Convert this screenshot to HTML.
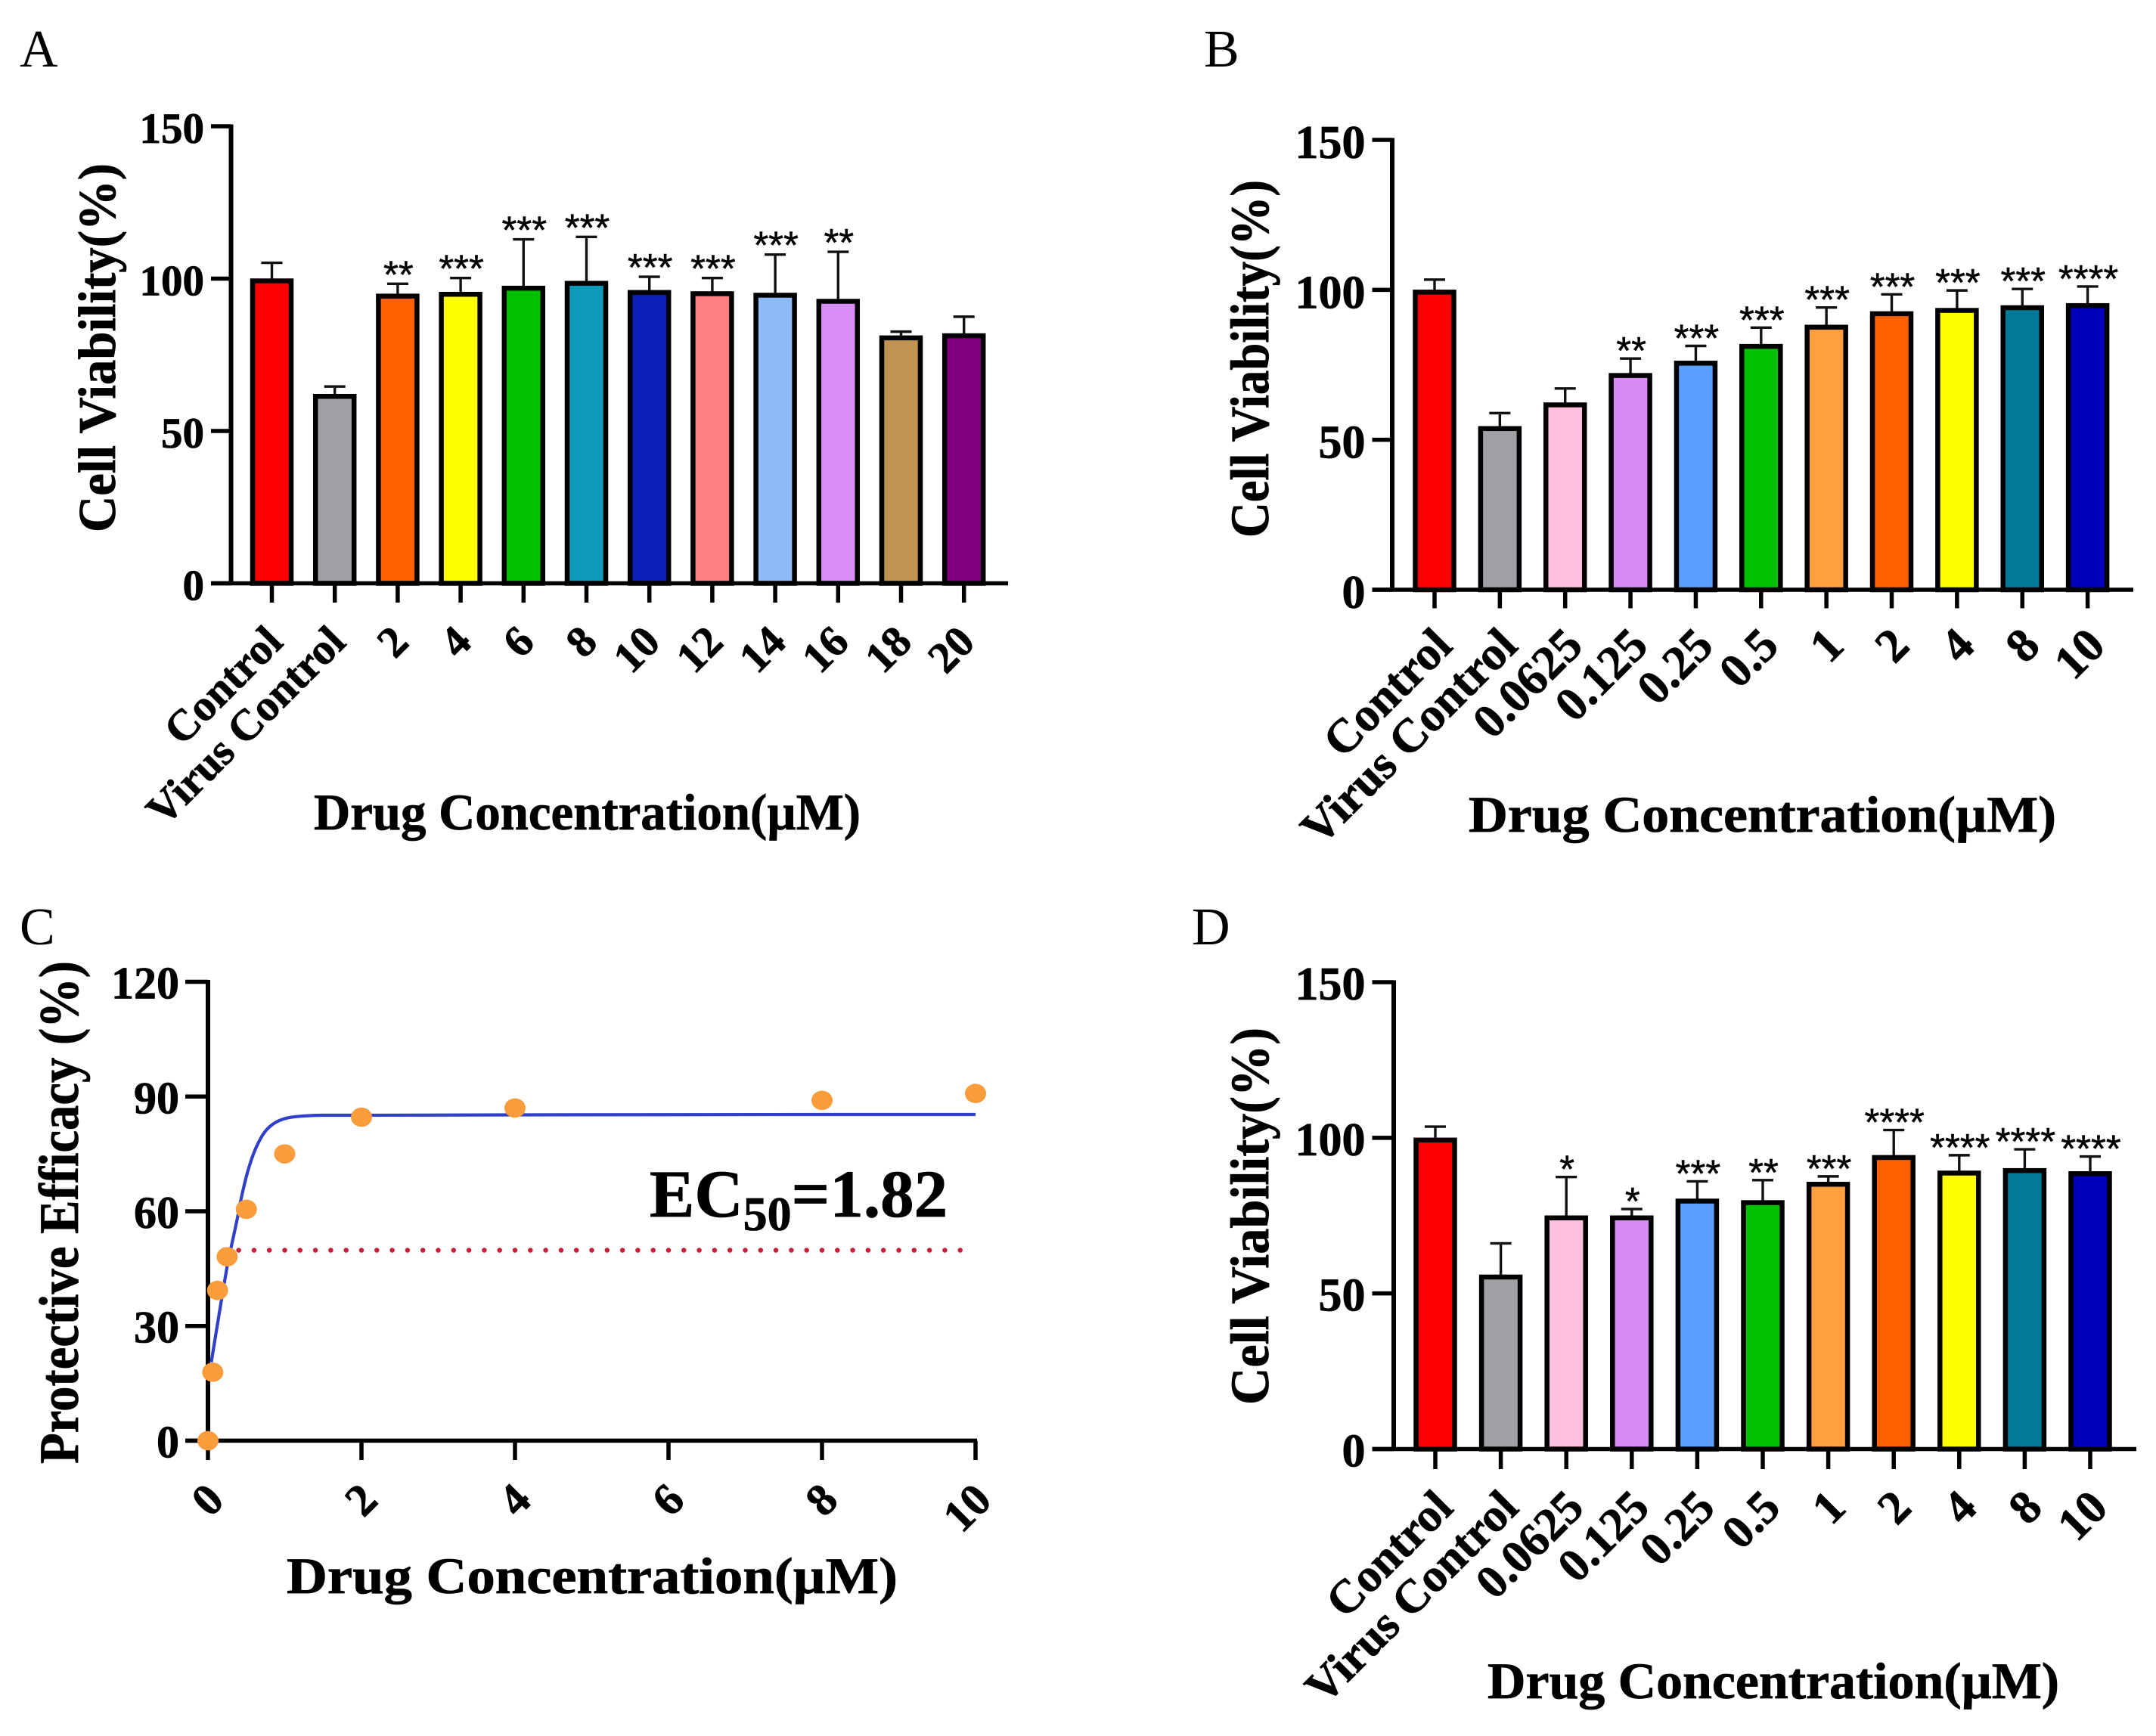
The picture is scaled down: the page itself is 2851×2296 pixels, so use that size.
<!DOCTYPE html>
<html lang="en">
<head>
<meta charset="utf-8">
<title>Cell viability and protective efficacy panels</title>
<style>
html,body{margin:0;padding:0;background:#fff;}
svg{display:block;}
text{font-family:"Liberation Serif",serif;fill:#000;}
.title{font-weight:bold;stroke:#000;stroke-width:0.8px;}
.letter{font-size:70px;}
</style>
</head>
<body>
<svg id="figure" width="2851" height="2296" viewBox="0 0 2851 2296" xmlns="http://www.w3.org/2000/svg">
<rect width="2851" height="2296" fill="#fff"/>

<text class="letter" x="26" y="88">A</text>
<text class="letter" x="1592" y="88">B</text>
<text class="letter" x="26" y="1249">C</text>
<text class="letter" x="1576" y="1249">D</text>

<text class="title" font-size="70" transform="translate(152,704) rotate(-90)" textLength="488" lengthAdjust="spacingAndGlyphs">Cell Viability(%)</text>
<text class="title" font-size="72" transform="translate(1677,711) rotate(-90)" textLength="473" lengthAdjust="spacingAndGlyphs">Cell Viability(%)</text>
<text class="title" font-size="74" transform="translate(103,1936) rotate(-90)" textLength="665" lengthAdjust="spacingAndGlyphs">Protective Efficacy (%)</text>
<text class="title" font-size="72" transform="translate(1677,1858) rotate(-90)" textLength="499" lengthAdjust="spacingAndGlyphs">Cell Viability(%)</text>

<text class="title" font-size="68" x="415" y="1097" textLength="723" lengthAdjust="spacingAndGlyphs">Drug Concentration(µM)</text>
<text class="title" font-size="68" x="1942" y="1100" textLength="777" lengthAdjust="spacingAndGlyphs">Drug Concentration(µM)</text>
<text class="title" font-size="68" x="379" y="2107" textLength="808" lengthAdjust="spacingAndGlyphs">Drug Concentration(µM)</text>
<text class="title" font-size="68" x="1967" y="2246" textLength="756" lengthAdjust="spacingAndGlyphs">Drug Concentration(µM)</text>

<text class="title" x="859" y="1609" font-size="89">EC<tspan dy="18" font-size="64">50</tspan><tspan dy="-18">=1.82</tspan></text>
</svg>
<script>
// Panel A data
const aCategories = ['Control','Virus Control','2','4','6','8','10','12','14','16','18','20'];
const aValues = [100,62.1,95,95.6,97.6,99.2,96.2,95.8,95.3,93.3,81.3,82];
const aErrors = [5.2,2.5,3.3,4.6,15.3,14.5,4.4,4.4,12.6,15.5,1.3,5.5];
const aStars = ['','','**','***','***','***','***','***','***','**','',''];
const aColors = ['#ff0000','#a0a0a4','#ff6000','#ffff00','#00c000','#0e9ab8','#0a20b8','#ff8080','#8fbcf8','#d88cf5','#c09350','#800080'];

// Panel B data
const bCategories = ['Control','Virus Control','0.0625','0.125','0.25','0.5','1','2','4','8','10'];
const bValues = [100,54.5,62.4,72.2,76.3,81.9,88.3,92.8,93.9,94.8,95.5];
const bErrors = [3.4,4.4,4.7,4.9,5,5.5,5.8,5.7,5.9,5.5,5.6];
const bStars = ['','','','**','***','***','***','***','***','***','****'];
const bColors = ['#ff0000','#a0a0a4','#ffc0e0','#d98af5','#5aa0ff','#00c000','#ff9f40','#ff6000','#ffff00','#007a96','#0000b8'];

// Panel D data
const dCategories = ['Control','Virus Control','0.0625','0.125','0.25','0.5','1','2','4','8','10'];
const dValues = [100,56,75,75,80.4,79.9,85.8,94.4,89.4,90.2,89.2];
const dErrors = [3.6,10.1,12.4,2.1,5.6,6.5,1.8,8.1,5,6.1,4.8];
const dStars = ['','','*','*','***','**','***','****','****','****','****'];
const dColors = ['#ff0000','#a0a0a4','#ffc0e0','#d98af5','#5aa0ff','#00c000','#ff9f40','#ff6000','#ffff00','#007a96','#0000b8'];

const barYTicks = [0,50,100,150];

// Panel C data
const cDoses = [0,0.0625,0.125,0.25,0.5,1,2,4,8,10];
const cEfficacy = [0,17.9,39.3,48.1,60.5,75,84.6,87,89,90.8];
const cFitDoses = [0.043,0.148,0.246,0.296,0.378,0.443,0.525,0.624,0.739,0.87,1.034,1.232,1.495,2,4,8,10];
const cFitEfficacy = [20.5,33.4,45.2,50,57.7,64.3,70.9,76.5,80.7,83.1,84.4,84.9,85.1,85.1,85.2,85.3,85.3];
const cThreshold = [50];
const cThresholdRange = [0.2,9.82];
const cXTicks = [0,2,4,6,8,10];
const cYTicks = [0,30,60,90,120];

const NS = 'http://www.w3.org/2000/svg';
const figure = document.getElementById('figure');

function make(tag, attrs, parent, text) {
  const el = document.createElementNS(NS, tag);
  for (const k in attrs) el.setAttribute(k, attrs[k]);
  if (text !== undefined) el.textContent = text;
  parent.appendChild(el);
  return el;
}

function drawAxes(g, p, xVals, xLabel, yVals, xScale, yScale) {
  const yAxis = make('line', {x1:p.axisX, x2:p.axisX, y1:yScale(yVals[0])+2.5, y2:yScale(yVals[yVals.length-1])-2.5, stroke:'#000','stroke-width':6}, g);
  
  
  const xAxis = make('line', {x1:p.tickLeft, x2:p.axisRight, y1:yScale(yVals[0]), y2:yScale(yVals[0]), stroke:'#000','stroke-width':5.5}, g);
  
  
  yVals.forEach(function (v) {
    const tick = make('line', {x1:p.tickLeft, x2:p.axisX, y1:yScale(v), y2:yScale(v), stroke:'#000','stroke-width':5.5}, g);
    
    
    const lab = make('text', {x:p.tickLeft-p.yLabelGap, y:yScale(v)+p.yLabelDy, 'text-anchor':'end', 'font-size':p.yFont, 'class':'title'}, g, String(v));
    
    
  });
  xVals.forEach(function (c, i) {
    const x = xScale(c, i);
    const tick = make('line', {x1:x, x2:x, y1:yScale(yVals[0]), y2:p.tickBottom, stroke:'#000','stroke-width':5.5}, g);
    
    
    const ax = x + p.labelDx, ay = p.labelY;
    const lab = make('text', {transform:'translate('+ax+','+ay+') rotate(-45)', 'text-anchor':'end', 'font-size':p.xFont, 'class':'title'}, g, xLabel(c));
    
    
  });
}

function drawBarPanel(p, categories, values, errors, stars, colors) {
  const g = make('g', {}, figure);
  
  
  const yScale = function (v) { return p.y0 - (p.y0 - p.yTop) * v / 150; };
  const xScale = function (c, i) { return p.x0 + p.step * i; };
  categories.forEach(function (c, i) {
    const x = xScale(c, i);
    const top = yScale(values[i]);
    const errTop = yScale(values[i] + errors[i]);
    const stem = make('line', {x1:x, x2:x, y1:top, y2:errTop, stroke:'#111','stroke-width':3.4}, g);
    
    
    const cap = make('line', {x1:x-14, x2:x+14, y1:errTop, y2:errTop, stroke:'#111','stroke-width':3.4}, g);
    
    
    const bar = make('rect', {x:x-25.5, y:top+3, width:51, height:yScale(0)-top-3, fill:colors[i], stroke:'#000','stroke-width':6.5}, g);
    
    
    if (stars[i]) {
      const s = make('text', {x:x+1, y:errTop+p.starDy, 'text-anchor':'middle', 'font-size':51, stroke:'#000','stroke-width':0.5, style:'font-family:"Liberation Sans",sans-serif'}, g, stars[i]);
      
      
    }
  });
  drawAxes(g, p, categories, function (c) { return c; }, barYTicks, xScale, yScale);
}

drawBarPanel({id:'panel-a', axisX:305.5, tickLeft:279, axisRight:1333, y0:771.5, yTop:167, x0:359.5, step:83.2, tickBottom:797, yFont:57, yLabelGap:9, yLabelDy:22, xFont:58, labelDx:17, labelY:852, starDy:5}, aCategories, aValues, aErrors, aStars, aColors);
drawBarPanel({id:'panel-b', axisX:1841, tickLeft:1814.5, axisRight:2821, y0:780, yTop:185, x0:1897, step:86.36, tickBottom:804.5, yFont:62, yLabelGap:9, yLabelDy:24, xFont:63, labelDx:26, labelY:857, starDy:7}, bCategories, bValues, bErrors, bStars, bColors);
drawBarPanel({id:'panel-d', axisX:1843, tickLeft:1814.5, axisRight:2825, y0:1916.5, yTop:1299, x0:1898, step:86.6, tickBottom:1943, yFont:62, yLabelGap:9, yLabelDy:23, xFont:62, labelDx:26, labelY:1997, starDy:7}, dCategories, dValues, dErrors, dStars, dColors);

(function drawCurvePanel() {
  const p = {id:'panel-c', axisX:275, tickLeft:245, axisRight:1292, tickBottom:1931, yFont:60, yLabelGap:8, yLabelDy:22, xFont:60, labelDx:24, labelY:1987};
  const g = make('g', {}, figure);
  
  
  const xScale = function (v) { return 275 + 101.5 * v; };
  const yScale = function (v) { return 1905.4 - 5.057 * v; };
  drawAxes(g, p, cXTicks, function (c) { return String(c); }, cYTicks, xScale, yScale);

  const dotted = make('line', {x1:xScale(cThresholdRange[0]), x2:xScale(cThresholdRange[1]), y1:yScale(cThreshold[0])+1, y2:yScale(cThreshold[0])+1, stroke:'#c8203a','stroke-width':6.5,'stroke-linecap':'round','stroke-dasharray':'0 20.3'}, g);
  
  

  // smooth path through the points
  const pts = cFitDoses.map(function (x, i) { return [xScale(x), yScale(cFitEfficacy[i])]; });
  let d = 'M' + pts[0][0].toFixed(1) + ' ' + pts[0][1].toFixed(1);
  for (let i = 0; i < pts.length - 1; i++) {
    const p0 = pts[Math.max(i - 1, 0)], p1 = pts[i], p2 = pts[i + 1], p3 = pts[Math.min(i + 2, pts.length - 1)];
    const seg = Math.min(1, (p2[0] - p1[0]) / Math.max(p2[0] - p0[0], 1));
    const k = seg >= 0.95 ? 0.1 : 1 / 6;
    d += ' C' + (p1[0] + (p2[0] - p0[0]) * k).toFixed(1) + ' ' + (p1[1] + (p2[1] - p0[1]) * k).toFixed(1)
      + ' ' + (p2[0] - (p3[0] - p1[0]) * 1 / 6).toFixed(1) + ' ' + (p2[1] - (p3[1] - p1[1]) * 1 / 6).toFixed(1)
      + ' ' + p2[0].toFixed(1) + ' ' + p2[1].toFixed(1);
  }
  const curve = make('path', {d:d, fill:'none', stroke:'#3040c8','stroke-width':4.2,'stroke-linejoin':'round'}, g);
  
  

  cDoses.forEach(function (x, i) {
    const pt = make('ellipse', {cx:xScale(x), cy:yScale(cEfficacy[i]), rx:14, ry:12.8, fill:'#f99c3c'}, g);
    
    
  });
})();
</script>
</body>
</html>
